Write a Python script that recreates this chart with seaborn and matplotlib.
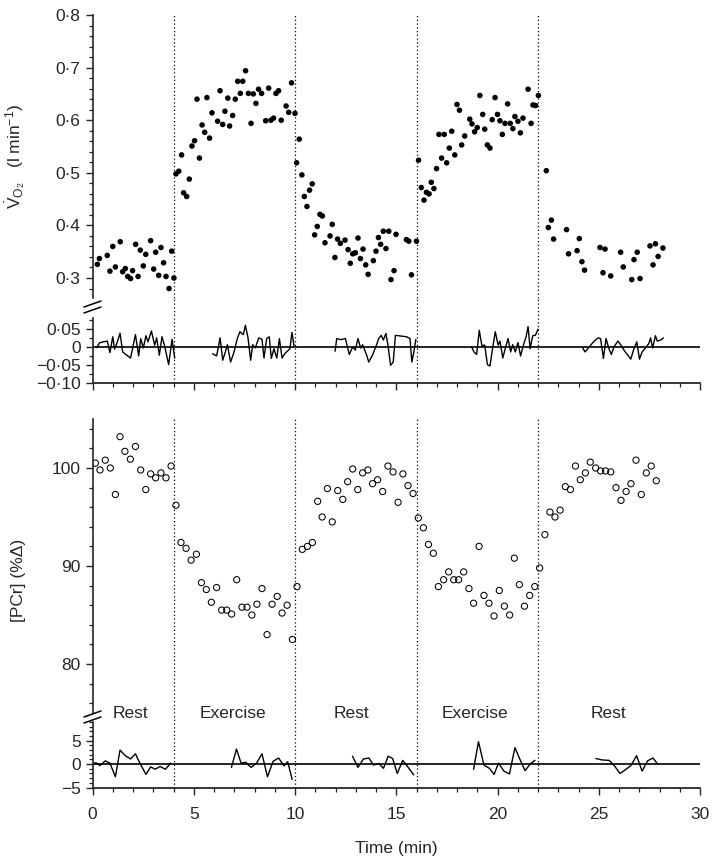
import numpy as np
import pandas as pd
import seaborn as sns
import matplotlib.pyplot as plt
from matplotlib.ticker import MultipleLocator
from matplotlib.lines import Line2D

# ---- data ----
phase_edges = [4, 10, 16, 22]
phase_names = ["Rest", "Exercise", "Rest", "Exercise", "Rest"]
phase_label_x = [1.85, 6.93, 12.8, 18.9, 25.5]

vo2_t = [0.24, 0.34, 0.73, 0.86, 1.00, 1.13, 1.37, 1.49, 1.62, 1.74, 1.88, 1.98, 2.13, 2.25,
         2.36, 2.51, 2.63, 2.87, 3.02, 3.12, 3.27, 3.38, 3.51, 3.63, 3.78, 3.91, 4.02,
         4.12, 4.26, 4.40, 4.50, 4.65, 4.78, 4.91, 5.04, 5.16, 5.28, 5.41, 5.54, 5.65, 5.78,
         5.90, 6.18, 6.30, 6.43, 6.54, 6.68, 6.77, 6.92, 7.05, 7.17, 7.30, 7.42, 7.56, 7.70,
         7.83, 7.94, 8.07, 8.20, 8.35, 8.55, 8.70, 8.81, 8.94, 9.06, 9.19, 9.32, 9.56, 9.69,
         9.83, 10.0,
         10.08, 10.21, 10.34, 10.46, 10.59, 10.72, 10.85, 10.97, 11.10, 11.23, 11.35, 11.48,
         11.73, 11.84, 11.97, 12.10, 12.24, 12.47, 12.62, 12.73, 12.85, 12.98, 13.11, 13.23,
         13.36, 13.49, 13.61, 13.87, 14.00, 14.12, 14.23, 14.36, 14.49, 14.63, 14.74, 14.89,
         14.99, 15.50, 15.62, 15.75, 16.00,
         16.10, 16.24, 16.37, 16.49, 16.62, 16.73, 16.86, 16.99, 17.11, 17.24, 17.37, 17.49,
         17.62, 17.74, 17.89, 18.00, 18.12, 18.23, 18.38, 18.63, 18.74, 18.87, 19.00, 19.13,
         19.27, 19.37, 19.50, 19.63, 19.74, 19.88, 20.00, 20.12, 20.24, 20.37, 20.50, 20.63,
         20.76, 20.86, 21.01, 21.13, 21.26, 21.51, 21.66, 21.75, 21.88, 22.02,
         22.41, 22.51, 22.66, 22.77, 23.41, 23.51, 23.93, 24.04, 24.17, 24.30, 25.06, 25.21,
         25.31, 25.59, 26.08, 26.21, 26.63, 26.74, 26.90, 27.04, 27.53, 27.68, 27.80, 27.93,
         28.17]
vo2_v = [0.326, 0.337, 0.343, 0.313, 0.360, 0.321, 0.369, 0.312, 0.318, 0.303, 0.299, 0.314,
         0.364, 0.303, 0.353, 0.323, 0.345, 0.371, 0.317, 0.349, 0.305, 0.358, 0.329, 0.303,
         0.280, 0.351, 0.300,
         0.498, 0.503, 0.534, 0.462, 0.455, 0.488, 0.551, 0.561, 0.640, 0.528, 0.591, 0.577,
         0.643, 0.566, 0.614, 0.598, 0.656, 0.592, 0.617, 0.642, 0.589, 0.609, 0.640, 0.674,
         0.651, 0.674, 0.694, 0.651, 0.594, 0.650, 0.632, 0.659, 0.651, 0.599, 0.661, 0.600,
         0.604, 0.651, 0.656, 0.600, 0.627, 0.615, 0.671, 0.613,
         0.519, 0.564, 0.496, 0.455, 0.436, 0.467, 0.479, 0.382, 0.398, 0.421, 0.418, 0.367,
         0.380, 0.402, 0.339, 0.374, 0.366, 0.372, 0.354, 0.328, 0.346, 0.348, 0.376, 0.337,
         0.355, 0.325, 0.307, 0.333, 0.351, 0.377, 0.364, 0.389, 0.356, 0.389, 0.297, 0.314,
         0.383, 0.373, 0.370, 0.306, 0.370,
         0.524, 0.472, 0.448, 0.463, 0.460, 0.482, 0.470, 0.508, 0.573, 0.528, 0.573, 0.519,
         0.547, 0.579, 0.534, 0.630, 0.619, 0.553, 0.570, 0.602, 0.593, 0.578, 0.586, 0.647,
         0.611, 0.583, 0.553, 0.547, 0.601, 0.643, 0.611, 0.599, 0.573, 0.594, 0.631, 0.594,
         0.584, 0.607, 0.598, 0.576, 0.604, 0.659, 0.594, 0.629, 0.628, 0.647,
         0.504, 0.396, 0.410, 0.374, 0.392, 0.346, 0.352, 0.375, 0.331, 0.315, 0.358, 0.310,
         0.355, 0.304, 0.349, 0.321, 0.297, 0.335, 0.349, 0.299, 0.361, 0.325, 0.365, 0.341,
         0.357]

vo2_res_t = [0.21, 0.34, 0.53, 0.73, 0.86, 1.00, 1.09, 1.23, 1.36, 1.49, 1.69, 1.88, 2.12,
             2.28, 2.38, 2.51, 2.64, 2.74, 2.91, 3.07, 3.17, 3.30, 3.43, 3.56, 3.76, 3.93, 4.06,
             5.93, 6.13, 6.30, 6.43, 6.56, 6.66, 6.82, 6.99, 7.15, 7.28, 7.45, 7.55, 7.68, 7.81,
             7.91, 8.04, 8.21, 8.37, 8.47, 8.60, 8.73, 8.83, 8.96, 9.10, 9.23, 9.36, 9.49, 9.62,
             9.75, 9.85, 9.95,
             11.98, 12.06, 12.26, 12.49, 12.68, 12.85, 12.98, 13.11, 13.24, 13.34, 13.54, 13.64,
             13.84, 14.03, 14.13, 14.26, 14.36, 14.49, 14.59, 14.72, 14.85, 14.96, 15.51, 15.68,
             15.77, 15.87, 15.97,
             18.72, 18.84, 18.97, 19.10, 19.23, 19.37, 19.50, 19.63, 19.76, 19.89, 20.03, 20.12,
             20.26, 20.39, 20.52, 20.65, 20.75, 20.88, 21.01, 21.14, 21.28, 21.41, 21.51, 21.61,
             21.74, 21.87, 22.00,
             24.21, 24.32, 24.53, 24.77, 24.98, 25.09, 25.23, 25.36, 25.49, 25.62, 25.75, 25.95,
             26.12, 26.28, 26.44, 26.58, 26.74, 26.88, 27.01, 27.14, 27.30, 27.47, 27.56, 27.66,
             27.80, 27.89, 28.06, 28.19]
vo2_res_v = [-0.002, 0.011, 0.014, 0.016, -0.016, 0.028, -0.006, 0.014, 0.038, -0.014, -0.023,
             -0.031, 0.034, -0.025, 0.023, -0.003, 0.031, 0.014, 0.044, 0.005, 0.025, -0.023,
             0.028, 0.003, -0.049, 0.021, -0.031,
             -0.019, -0.025, 0.025, -0.037, -0.014, 0.006, -0.042, -0.014, 0.023, 0.042, 0.034,
             0.060, 0.025, -0.037, 0.006, -0.003, 0.025, 0.021, -0.031, 0.023, 0.028, -0.032,
             -0.005, -0.031, 0.023, -0.031, -0.019, -0.012, -0.005, 0.040, 0.003,
             -0.012, 0.023, 0.020, 0.023, -0.021, 0.000, -0.009, 0.023, -0.003, 0.006, -0.023,
             -0.042, -0.021, 0.006, 0.023, 0.032, 0.019, 0.037, 0.005, -0.051, -0.042, 0.032,
             0.028, 0.023, -0.042, -0.014, 0.021,
             0.000, -0.014, -0.021, 0.046, 0.003, 0.005, -0.049, -0.053, -0.003, 0.042, 0.005,
             0.016, -0.031, -0.003, 0.023, -0.014, 0.006, -0.014, 0.012, -0.025, 0.005, 0.028,
             0.056, -0.005, 0.031, 0.032, 0.049,
             -0.003, -0.014, 0.000, 0.016, 0.025, 0.023, -0.032, 0.023, -0.003, -0.021, 0.000,
             0.016, 0.003, -0.012, -0.023, -0.034, -0.005, 0.014, -0.034, -0.014, -0.003, 0.009,
             0.025, -0.003, 0.031, 0.016, 0.019, 0.025]
vo2_res_starts = [0.2, 5.9, 11.9, 18.7, 24.2]

pcr_t = [0.14, 0.37, 0.63, 0.88, 1.13, 1.36, 1.60, 1.87, 2.12, 2.38, 2.63, 2.87, 3.12, 3.38,
         3.63, 3.88,
         4.12, 4.37, 4.62, 4.87, 5.13, 5.38, 5.62, 5.87, 6.13, 6.38, 6.63, 6.87, 7.12, 7.38,
         7.63, 7.87, 8.12, 8.37, 8.62, 8.87, 9.12, 9.36, 9.61, 9.87, 10.10,
         10.36, 10.61, 10.86, 11.12, 11.34, 11.60, 11.84, 12.11, 12.36, 12.60, 12.85, 13.10,
         13.34, 13.60, 13.83, 14.08, 14.33, 14.59, 14.84, 15.09, 15.33, 15.58, 15.83,
         16.09, 16.34, 16.59, 16.83, 17.08, 17.34, 17.59, 17.84, 18.08, 18.33, 18.59, 18.82,
         19.09, 19.33, 19.58, 19.83, 20.09, 20.34, 20.60, 20.83, 21.08, 21.33, 21.59, 21.84,
         22.08,
         22.34, 22.59, 22.84, 23.09, 23.35, 23.60, 23.85, 24.09, 24.34, 24.58, 24.85, 25.09,
         25.34, 25.59, 25.85, 26.10, 26.35, 26.59, 26.84, 27.10, 27.35, 27.59, 27.84]
pcr_v = [100.5, 99.8, 100.8, 100.0, 97.3, 103.2, 101.7, 100.9, 102.2, 99.8, 97.8, 99.4, 99.0,
         99.5, 99.0, 100.2,
         96.2, 92.4, 91.8, 90.6, 91.2, 88.3, 87.6, 86.3, 87.8, 85.5, 85.5, 85.1, 88.6, 85.8,
         85.8, 85.0, 86.1, 87.7, 83.0, 86.1, 86.9, 85.2, 86.0, 82.5, 87.9,
         91.7, 92.0, 92.4, 96.6, 95.0, 97.9, 94.5, 97.7, 96.8, 98.6, 99.9, 97.8,
         99.5, 99.8, 98.4, 98.8, 97.6, 100.2, 99.6, 96.5, 99.4, 98.2, 97.4,
         94.9, 93.9, 92.2, 91.3, 87.9, 88.6, 89.4, 88.6, 88.6, 89.4, 87.7, 86.2,
         92.0, 87.0, 86.2, 84.9, 87.5, 85.9, 85.0, 90.8, 88.1, 85.9, 87.0, 87.9,
         89.8,
         93.2, 95.5, 95.0, 95.7, 98.1, 97.8, 100.2, 98.8, 99.5, 100.6, 100.0, 99.7,
         99.7, 99.6, 98.0, 96.7, 97.6, 98.4, 100.8, 97.3, 99.5, 100.2, 98.7]

pcr_res_t = [0.04, 0.17, 0.37, 0.63, 0.86, 1.13, 1.36, 1.62, 1.88, 2.12, 2.35, 2.64, 2.87,
             3.10, 3.33, 3.60, 3.86,
             6.86, 7.11, 7.34, 7.56, 7.83, 8.10, 8.37, 8.64, 8.92, 9.19, 9.46, 9.64, 9.86,
             12.84, 13.11, 13.38, 13.65, 13.87, 14.14, 14.37, 14.60, 14.82, 15.05, 15.32,
             15.59, 15.86,
             18.82, 19.06, 19.33, 19.60, 19.83, 20.05, 20.32, 20.59, 20.86, 21.13, 21.36,
             21.63, 21.85,
             24.86, 25.15, 25.51, 25.78, 26.05, 26.32, 26.59, 26.87, 27.14, 27.41, 27.68, 27.91]
pcr_res_v = [0.1, 0.3, -0.3, 0.7, 0.2, -2.7, 3.0, 1.8, 1.1, 2.2, 0.1, -2.2, -0.6, -1.1, -0.5,
             -1.1, 0.2,
             -0.7, 3.2, 0.2, 0.4, -0.7, 0.2, 2.2, -2.7, 0.6, 1.3, -0.4, 0.5, -3.3,
             1.7, -0.7, 1.1, 1.3, -0.2, 0.1, -0.9, 1.7, 1.2, -2.0, 0.8, -0.7, -2.3,
             -1.1, 4.8, -0.2, -0.9, -2.2, 0.2, -1.5, -2.1, 3.5, 0.8, -1.4, 0.1, 0.8,
             1.2, 0.9, 0.8, -0.4, -2.0, -1.2, -0.3, 1.8, -1.5, 0.7, 1.3, 0.0]
pcr_res_starts = [0.0, 6.8, 12.8, 18.8, 24.8]

vo2_ticks = [0.3, 0.4, 0.5, 0.6, 0.7, 0.8]
vo2_ticklabels = ["0·3", "0·4", "0·5", "0·6", "0·7", "0·8"]
vo2_res_ticks = [-0.10, -0.05, 0, 0.05]
vo2_res_ticklabels = ["\u22120·10", "\u22120·05", "0", "0·05"]
pcr_ticks = [80, 90, 100]
pcr_res_ticks = [-5, 0, 5]
pcr_res_ticklabels = ["\u22125", "0", "5"]
time_ticks = [0, 5, 10, 15, 20, 25, 30]

vo2 = pd.DataFrame({"t": vo2_t, "v": vo2_v})
pcr = pd.DataFrame({"t": pcr_t, "v": pcr_v})
vo2_res = pd.DataFrame({"t": vo2_res_t, "v": vo2_res_v})
vo2_res["bout"] = np.searchsorted(vo2_res_starts, vo2_res["t"], side="right")
pcr_res = pd.DataFrame({"t": pcr_res_t, "v": pcr_res_v})
pcr_res["bout"] = np.searchsorted(pcr_res_starts, pcr_res["t"], side="right")

# ---- style ----
sns.set_style("ticks")
plt.rcParams["font.family"] = ["Liberation Sans", "DejaVu Sans"]
plt.rcParams["mathtext.fontset"] = "custom"
plt.rcParams["mathtext.rm"] = "Liberation Sans"
plt.rcParams["mathtext.it"] = "Liberation Sans:italic"
FS = 12.5
plt.rcParams["font.size"] = FS

W, H = 716, 863
fig = plt.figure(figsize=(W / 100, H / 100), dpi=100)


def box(top, bottom, left=92.5, right=700):
    return [left / W, 1 - bottom / H, (right - left) / W, (bottom - top) / H]


ax1 = fig.add_axes(box(15, 298))
ax2 = fig.add_axes(box(318, 383))
ax3 = fig.add_axes(box(419, 713))
ax4 = fig.add_axes(box(722, 787.5))

sns.scatterplot(data=vo2, x="t", y="v", ax=ax1, color="k", s=16, edgecolor="none")
sns.scatterplot(data=pcr, x="t", y="v", ax=ax3, marker="o", s=20,
                facecolors="none", edgecolors="k", linewidths=0.75)
sns.lineplot(data=vo2_res, x="t", y="v", units="bout", estimator=None, ax=ax2,
             color="k", lw=1.0)
sns.lineplot(data=pcr_res, x="t", y="v", units="bout", estimator=None, ax=ax4,
             color="k", lw=1.0)

for ax in (ax2, ax4):
    ax.axhline(0, color="k", lw=1.2, zorder=1)

ax1.set_ylim(0.262, 0.8)
ax2.set_ylim(-0.10, 0.08)
ax3.set_ylim(75, 105)
ax4.set_ylim(-5, 9)

gaps = {ax1: 0, ax2: 20 / 65, ax3: 0, ax4: 9 / 65.5}
for ax in (ax1, ax2, ax3, ax4):
    ax.set_xlim(0, 30)
    for e in phase_edges:
        ax.axvline(e, ymin=0, ymax=1 + gaps[ax], color="k", lw=0.9,
                   ls=(0, (1, 2)), clip_on=False, zorder=0)
    sns.despine(ax=ax, top=True, right=True)
    ax.set_xlabel("")
    ax.set_ylabel("")
    ax.tick_params(which="major", length=5, width=1.0, pad=3.5, labelsize=FS, direction="out")
    ax.tick_params(which="minor", length=3.2, width=0.9, direction="out")
    ax.spines["left"].set_linewidth(1.2)
    ax.spines["bottom"].set_linewidth(1.3)

for ax in (ax1, ax3):
    ax.spines["bottom"].set_visible(False)
    ax.set_xticks([])
    ax.tick_params(axis="x", which="both", bottom=False, labelbottom=False)

ax1.set_yticks(vo2_ticks, vo2_ticklabels)
ax1.yaxis.set_minor_locator(MultipleLocator(0.02))
ax2.set_yticks(vo2_res_ticks, vo2_res_ticklabels)
ax2.yaxis.set_minor_locator(MultipleLocator(0.025))
ax3.set_yticks(pcr_ticks)
ax3.yaxis.set_minor_locator(MultipleLocator(2))
ax4.set_yticks(pcr_res_ticks, pcr_res_ticklabels)
ax4.yaxis.set_minor_locator(MultipleLocator(1))

for ax in (ax2, ax4):
    ax.set_xticks(time_ticks)
    ax.xaxis.set_minor_locator(MultipleLocator(1))
ax2.tick_params(axis="x", labelbottom=False)
ax4.tick_params(axis="x", pad=9)
ax4.set_xlabel("Time (min)", labelpad=14)

ax1.set_ylabel(r"$\dot{\mathrm{V}}_{\mathrm{O_2}}$   (l min$^{-1}$)")
ax1.yaxis.set_label_coords(-0.108, 0.5)
ax3.set_ylabel("[PCr] (%\u0394)")
ax3.yaxis.set_label_coords(-0.11, 0.45)

for x, name in zip(phase_label_x, phase_names):
    ax3.text(x, 75.0, name, ha="center", va="center", fontsize=FS)

# axis-break marks on the left spines
for ybrk in ((304, 310), (714, 720)):
    for yb in ybrk:
        fig.add_artist(Line2D([84 / W, 101 / W], [1 - (yb + 3) / H, 1 - (yb - 3) / H],
                              color="k", lw=1.1, transform=fig.transFigure))

fig.savefig("out.png", dpi=100)
